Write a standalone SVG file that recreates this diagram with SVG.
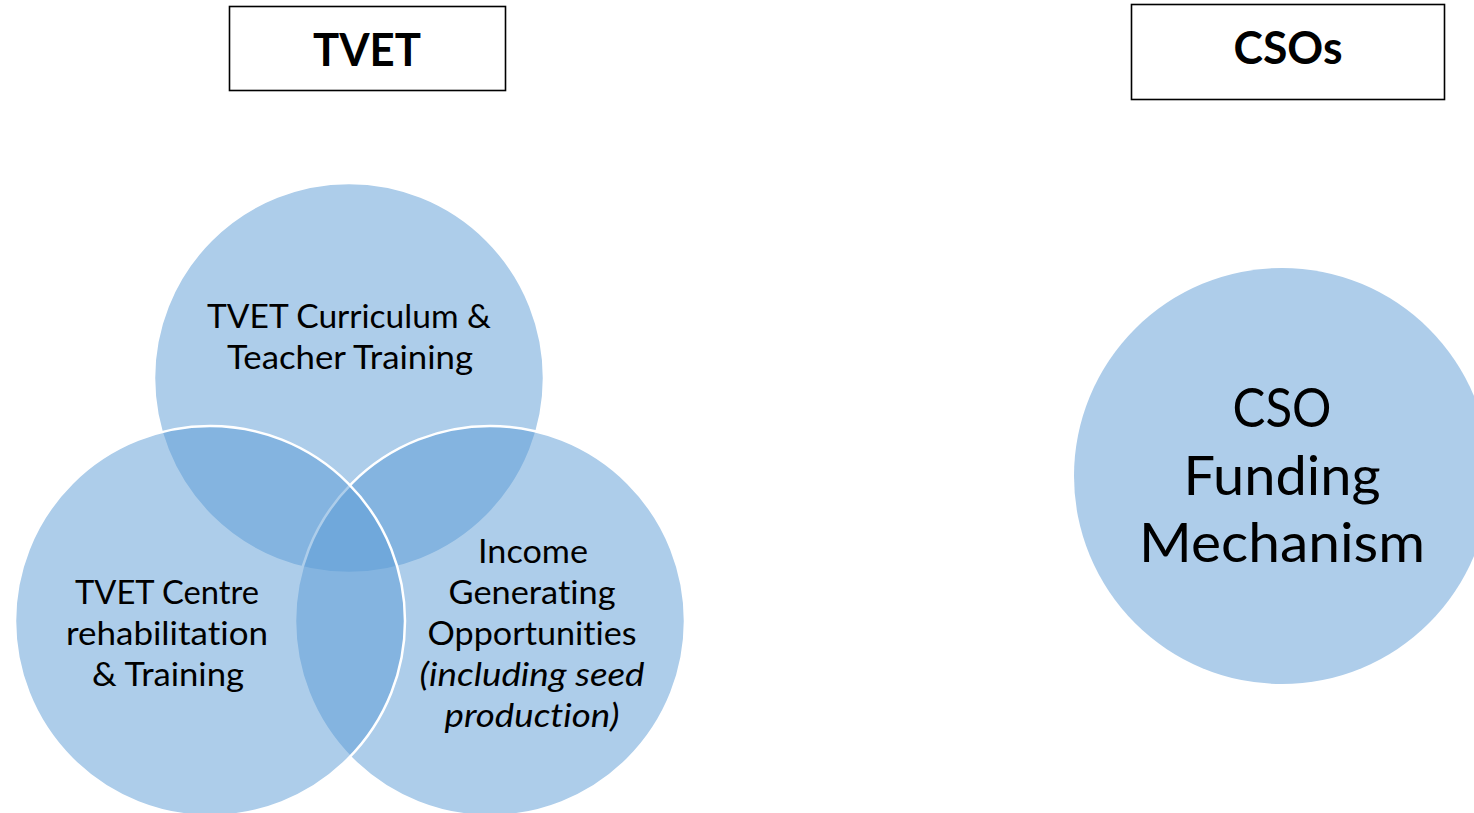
<svg xmlns="http://www.w3.org/2000/svg" width="1474" height="813" viewBox="0 0 1474 813">
<style>
text{font-variant-ligatures:none;font-feature-settings:"liga" 0,"clig" 0}
.hdr{fill:#fff;stroke:#000;stroke-width:1.6}
.ht{font-family:Lato,"Open Sans",sans-serif;font-weight:bold;font-size:46px;fill:#000;text-anchor:middle}
.venn{fill:#5B9BD5;fill-opacity:0.5;stroke:#fff;stroke-width:2.5}
.vt{font-family:Lato,"Open Sans",sans-serif;font-size:32px;fill:#000;text-anchor:middle}
.it{font-style:italic}
.ct{font-family:Lato,"Open Sans",sans-serif;font-size:54px;fill:#000;text-anchor:middle}
</style>
<rect width="1474" height="813" fill="#fff"/>
<g id="tvet-header">
<rect class="hdr" x="229.5" y="6.5" width="276" height="84"/>
<text class="ht" x="367" y="66" textLength="108" lengthAdjust="spacingAndGlyphs">TVET</text>
</g>
<g id="cso-header">
<rect class="hdr" x="1131.5" y="4.5" width="313" height="95"/>
<text class="ht" x="1288" y="64" textLength="109" lengthAdjust="spacingAndGlyphs">CSOs</text>
</g>
<g id="venn-top">
<circle class="venn" cx="349" cy="378" r="195"/>
</g>
<g id="venn-right">
<circle class="venn" cx="490" cy="621" r="195"/>
</g>
<g id="venn-left">
<circle class="venn" cx="210" cy="621" r="195"/>
</g>
<g id="venn-labels">
<g id="label-top">
<text class="vt" x="349" y="328" textLength="284" lengthAdjust="spacingAndGlyphs">TVET Curriculum &amp;</text>
<text class="vt" x="350" y="369" textLength="246" lengthAdjust="spacingAndGlyphs">Teacher Training</text>
</g>
<g id="label-left">
<text class="vt" x="167" y="604" textLength="184" lengthAdjust="spacingAndGlyphs">TVET Centre</text>
<text class="vt" x="167" y="645" textLength="202" lengthAdjust="spacingAndGlyphs">rehabilitation</text>
<text class="vt" x="168" y="686" textLength="152" lengthAdjust="spacingAndGlyphs">&amp; Training</text>
</g>
<g id="label-right">
<text class="vt" x="533" y="563" textLength="110" lengthAdjust="spacingAndGlyphs">Income</text>
<text class="vt" x="532" y="604" textLength="167" lengthAdjust="spacingAndGlyphs">Generating</text>
<text class="vt" x="532" y="645" textLength="209" lengthAdjust="spacingAndGlyphs">Opportunities</text>
<text class="vt it" x="532" y="686" textLength="225" lengthAdjust="spacingAndGlyphs">(including seed</text>
<text class="vt it" x="532" y="727" textLength="175" lengthAdjust="spacingAndGlyphs">production)</text>
</g>
</g>
<g id="cso-funding">
<circle cx="1282" cy="476" r="208" fill="#AECDEA"/>
<text class="ct" x="1282" y="427" textLength="99" lengthAdjust="spacingAndGlyphs">CSO</text>
<text class="ct" x="1282" y="495" textLength="197" lengthAdjust="spacingAndGlyphs">Funding</text>
<text class="ct" x="1282" y="562" textLength="286" lengthAdjust="spacingAndGlyphs">Mechanism</text>
</g>
<g id="connectors"/>
</svg>
